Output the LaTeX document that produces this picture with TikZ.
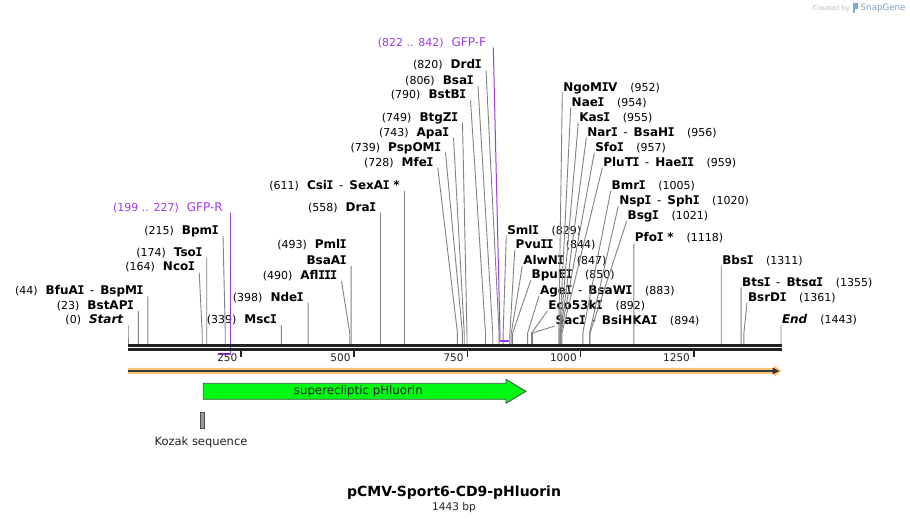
\documentclass[tikz,border=0pt]{standalone}
\usepackage{fontspec}
\setmainfont{DejaVu Sans}[ItalicFont={DejaVu Sans Oblique},BoldItalicFont={DejaVu Sans Bold Oblique}]
\newfontfamily\monofam{DejaVu Sans Mono}
\usetikzlibrary{calc}
\definecolor{cutgray}{RGB}{130,130,130}
\definecolor{primer}{RGB}{158,58,238}
\definecolor{bb}{RGB}{34,34,34}
\definecolor{featgreen}{RGB}{0,250,20}
\definecolor{featedge}{RGB}{60,90,60}
\definecolor{orangeband}{RGB}{252,200,120}
\definecolor{kozakgray}{RGB}{150,155,160}
\definecolor{wmgray}{RGB}{190,190,190}
\definecolor{snapblue}{RGB}{120,170,220}
\newcommand\Ib{{\kern-0.6pt\monofam\bfseries I\kern-0.6pt}}
\newcommand\nm[1]{{\fontsize{12}{14}\selectfont\bfseries #1}}
\newcommand\bpn[1]{{\fontsize{11}{13}\selectfont (#1)}}
\newcommand\dsh{\hspace{6pt}{\fontsize{12}{14}\selectfont -}\hspace{6pt}}
\newcommand\gapL{\hspace{8pt}}
\newcommand\gapR{\hspace{13pt}}
\newcommand\enzL[5]{%
  \coordinate (#1-a) at (#3,#4);
  \coordinate (#1-k) at ({128+#2*0.45253},333);
  \coordinate (#1-c) at ({128+#2*0.45253},344);
  \node[lbl,anchor=base east] (#1) at ($(#1-a)+(-4.8,-1.6)$) {#5};
  \draw[cutline] (#1-a) -- (#1-k) -- (#1-c);}
\newcommand\enzR[5]{%
  \coordinate (#1-a) at (#3,#4);
  \coordinate (#1-k) at ({128+#2*0.45253},333);
  \coordinate (#1-c) at ({128+#2*0.45253},344);
  \node[lbl,anchor=base west] (#1) at ($(#1-a)+(1.0,-1.6)$) {#5};
  \draw[cutline] (#1-a) -- (#1-k) -- (#1-c);}
\begin{document}
\begin{tikzpicture}[x=1pt,y=-1pt,
  lbl/.style={inner sep=0pt,outer sep=0pt,text=black},
  cutline/.style={draw=cutgray,line width=0.9pt},
  primline/.style={draw=primer,line width=1pt},
  primbar/.style={draw=primer,line width=2pt},
  plbl/.style={inner sep=0pt,outer sep=0pt,text=primer},
  bbline/.style={draw=bb,line width=2.6pt},
  tickline/.style={draw=bb,line width=1.8pt},
  ticklbl/.style={inner sep=0pt,outer sep=0pt,text=bb,font=\fontsize{10.5}{12}\selectfont}]
\useasboundingbox (0,0) rectangle (910,523);
\fill[white] (0,0) rectangle (910,523);

% watermark
\node[inner sep=0pt,anchor=base east,text=wmgray,font=\fontsize{6.7}{8}\selectfont] (wm1) at (850,10) {Created by};
\fill[snapblue] (852.5,2.5) rectangle (855,13);
\fill[snapblue] (852.5,2.5) rectangle (857.5,8.5);
\node[inner sep=0pt,anchor=base west,text=snapblue!80!gray,font=\fontsize{8.7}{10}\selectfont] (wm2) at (860.5,10.5) {SnapGene};

% left labels
\enzL{startm}{0}{128}{325.3}{\bpn{0}\gapL\nm{\itshape Start}}
\enzL{bstapi}{23}{138.41}{311}{\bpn{23}\gapL\nm{BstAP\Ib}}
\enzL{bfuai}{44}{147.91}{296.3}{\bpn{44}\gapL\nm{BfuA\Ib}\dsh\nm{BspM\Ib}}
\enzL{ncoi}{164}{199.2}{272.5}{\bpn{164}\gapL\nm{Nco\Ib}}
\enzL{tsoi}{174}{206.74}{257.7}{\bpn{174}\gapL\nm{Tso\Ib}}
\enzL{bpmi}{215}{223}{236}{\bpn{215}\gapL\nm{Bpm\Ib}}
\enzL{msci}{339}{281.41}{325.3}{\bpn{339}\gapL\nm{Msc\Ib}}
\enzL{ndei}{398}{308.11}{302.7}{\bpn{398}\gapL\nm{Nde\Ib}}
\enzL{afliii}{490}{341.5}{281}{\bpn{490}\gapL\nm{Afl\Ib\Ib\Ib}}
\enzL{bsaai}{493}{351.10}{266}{\nm{BsaA\Ib}}
\node[lbl,anchor=base east] (pmli) at ($(bsaai-a)+(-4.8,-17.3)$) {\bpn{493}\gapL\nm{Pml\Ib}};
\enzL{drai}{558}{380.51}{212.7}{\bpn{558}\gapL\nm{Dra\Ib}}
\enzL{csii}{611}{404.50}{191}{\bpn{611}\gapL\nm{Csi\Ib}\dsh\nm{SexA\Ib{} *}}
\enzL{mfei}{728}{437.8}{167.7}{\bpn{728}\gapL\nm{Mfe\Ib}}
\enzL{pspomi}{739}{445.5}{152.7}{\bpn{739}\gapL\nm{PspOM\Ib}}
\enzL{apai}{743}{453.5}{137.7}{\bpn{743}\gapL\nm{Apa\Ib}}
\enzL{btgzi}{749}{462.5}{122.7}{\bpn{749}\gapL\nm{BtgZ\Ib}}
\enzL{bstbi}{790}{470.5}{100.3}{\bpn{790}\gapL\nm{BstB\Ib}}
\enzL{bsai}{806}{478}{86}{\bpn{806}\gapL\nm{Bsa\Ib}}
\enzL{drdi}{820}{486}{70.3}{\bpn{820}\gapL\nm{Drd\Ib}}

% right labels
\enzR{smli}{829}{506.3}{236}{\nm{Sml\Ib}\gapR\bpn{829}}
\enzR{pvuii}{844}{514.7}{250.3}{\nm{Pvu\Ib\Ib}\gapR\bpn{844}}
\enzR{alwni}{847}{522.3}{266}{\nm{AlwN\Ib}\gapR\bpn{847}}
\enzR{bpuei}{850}{530.7}{280.3}{\nm{BpuE\Ib}\gapR\bpn{850}}
\enzR{agei}{883}{539}{296}{\nm{Age\Ib}\dsh\nm{BsaW\Ib}\gapR\bpn{883}}
\enzR{eco}{892}{547.3}{311}{\nm{Eco53k\Ib}\gapR\bpn{892}}
\enzR{saci}{894}{554.7}{326}{\nm{Sac\Ib}\dsh\nm{BsiHKA\Ib}\gapR\bpn{894}}
\enzR{ngomiv}{952}{562.3}{92.7}{\nm{NgoM\Ib V}\gapR\bpn{952}}
\enzR{naei}{954}{570.7}{107.7}{\nm{Nae\Ib}\gapR\bpn{954}}
\enzR{kasi}{955}{578.3}{122.7}{\nm{Kas\Ib}\gapR\bpn{955}}
\enzR{nari}{956}{586.3}{137.7}{\nm{Nar\Ib}\dsh\nm{BsaH\Ib}\gapR\bpn{956}}
\enzR{sfoi}{957}{594.3}{152.7}{\nm{Sfo\Ib}\gapR\bpn{957}}
\enzR{pluti}{959}{602.3}{167.7}{\nm{PluT\Ib}\dsh\nm{Hae\Ib\Ib}\gapR\bpn{959}}
\enzR{bmri}{1005}{610.7}{191}{\nm{Bmr\Ib}\gapR\bpn{1005}}
\enzR{nspi}{1020}{618.3}{206}{\nm{Nsp\Ib}\dsh\nm{Sph\Ib}\gapR\bpn{1020}}
\enzR{bsgi}{1021}{626.7}{221}{\nm{Bsg\Ib}\gapR\bpn{1021}}
\enzR{pfoi}{1118}{633.93}{243.3}{\nm{Pfo\Ib{} *}\gapR\bpn{1118}}
\enzR{bbsi}{1311}{721.27}{266}{\nm{Bbs\Ib}\gapR\bpn{1311}}
\enzR{btsi}{1355}{741.18}{287.7}{\nm{Bts\Ib}\dsh\nm{Btsα\Ib}\gapR\bpn{1355}}
\enzR{bsrdi}{1361}{747}{302.7}{\nm{BsrD\Ib}\gapR\bpn{1361}}
\enzR{endm}{1443}{781}{325.3}{\nm{\itshape End}\gapR\bpn{1443}}

% primers
\node[plbl,anchor=base east] (gfpf) at (486,46.1) {{\fontsize{11}{13}\selectfont (822 .. 842)}\hspace{8pt}{\fontsize{12}{14}\selectfont GFP-F}};
\coordinate (gfpf-a) at (493.3,47.5);
\coordinate (gfpf-k) at (499.98,333);
\coordinate (gfpf-s) at (499.98,340.7);
\coordinate (gfpf-e) at (509.03,340.7);
\draw[primline] (gfpf-a) -- (gfpf-k) -- (gfpf-s);
\draw[primbar] (gfpf-s) -- (gfpf-e);

\node[plbl,anchor=base east] (gfpr) at (222.7,211.1) {{\fontsize{11}{13}\selectfont (199 .. 227)}\hspace{8pt}{\fontsize{12}{14}\selectfont GFP-R}};
\coordinate (gfpr-a) at (230.72,213.3);
\coordinate (gfpr-e) at (230.72,354.7);
\coordinate (gfpr-s) at (218.05,353.7);
\coordinate (gfpr-t) at (230.72,353.7);
\draw[primline] (gfpr-a) -- (gfpr-e);
\draw[primbar] (gfpr-s) -- (gfpr-t);

% backbone
\coordinate (bb1s) at (128,345.3); \coordinate (bb1e) at (781.5,345.3);
\coordinate (bb2s) at (128,349.5); \coordinate (bb2e) at (781.5,349.5);
\draw[bbline] (bb1s) -- (bb1e);
\draw[bbline] (bb2s) -- (bb2e);

% ticks
\foreach \t in {250,500,750,1000,1250}{
  \coordinate (tk\t) at ({128+\t*0.45253},350.5);
  \draw[tickline] (tk\t) -- ++(0,6.5);
  \node[ticklbl,anchor=base east] (tl\t) at ($(tk\t)+(-3.8,10.5)$) {\t};
}

% orange arrow
\fill[orangeband] (128,367.8) -- (774,367.8) -- (774,365.3) -- (781.5,371) -- (774,376.7) -- (774,374.2) -- (128,374.2) -- cycle;
\draw[draw=bb!90,line width=2pt] (128,371) -- (774,371);
\fill[bb!90] (772.5,367.6) -- (779.5,371) -- (772.5,374.4) -- cycle;

% feature arrow
\draw[draw=featedge,line width=0.8pt,fill=featgreen] (203.3,383.3) -- (506,383.3) -- (506,379.3) -- (526,391.3) -- (506,403.3) -- (506,399.3) -- (203.3,399.3) -- cycle;
\node[inner sep=0pt,anchor=base,text=bb,font=\fontsize{11.8}{14}\selectfont] (sep) at (358.3,394.5) {superecliptic pHluorin};

% kozak
\draw[draw=bb!80,line width=0.8pt,fill=kozakgray] (200,412.3) rectangle (204.7,428.3);
\node[inner sep=0pt,anchor=base,text=bb,font=\fontsize{11.5}{13}\selectfont] (kozak) at (201,445.7) {Kozak sequence};

% title
\node[inner sep=0pt,anchor=base,text=black,font=\fontsize{14}{16}\selectfont\bfseries] (title) at (454,496.7) {pCMV-Sport6-CD9-pHluorin};
\node[inner sep=0pt,anchor=base,text=bb,font=\fontsize{10.6}{12}\selectfont] (len) at (454,510) {1443 bp};
\end{tikzpicture}
\end{document}
